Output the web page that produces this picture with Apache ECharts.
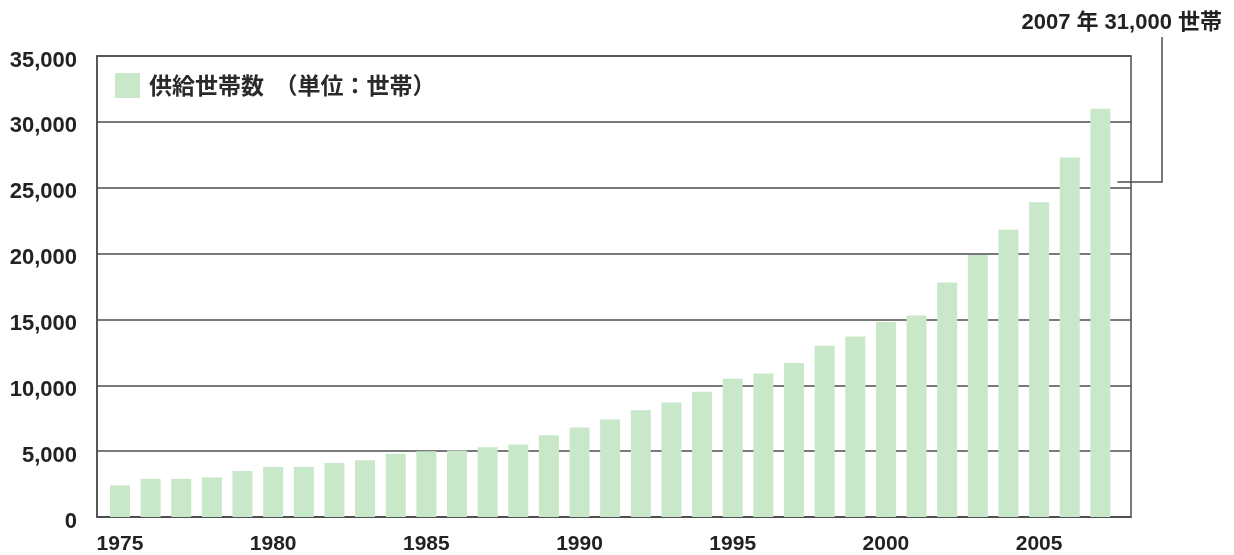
<!DOCTYPE html>
<html>
<head>
<meta charset="utf-8">
<script src="https://cdn.jsdelivr.net/npm/echarts@6/dist/echarts.min.js"></script>
<style>
  html, body { margin: 0; padding: 0; background: #fff; }
  #chart { width: 1234px; height: 555px; }
</style>
</head>
<body>
<div id="chart"></div>
<script>
// 供給世帯数の推移（1975〜2007年）
const years = [1975, 1976, 1977, 1978, 1979, 1980, 1981, 1982, 1983, 1984,
               1985, 1986, 1987, 1988, 1989, 1990, 1991, 1992, 1993, 1994,
               1995, 1996, 1997, 1998, 1999, 2000, 2001, 2002, 2003, 2004,
               2005, 2006, 2007];
const households = [2400, 2900, 2900, 3000, 3500, 3800, 3800, 4100, 4300, 4800,
                    5000, 5050, 5300, 5500, 6200, 6800, 7400, 8100, 8700, 9500,
                    10500, 10900, 11700, 13000, 13700, 14800, 15300, 17800, 19900, 21800,
                    23900, 27300, 31000];
const yTicks = [0, 5000, 10000, 15000, 20000, 25000, 30000, 35000];
const seriesName = '供給世帯数  （単位：世帯）';
const noteText = '2007 年 31,000 世帯';

const FONT = '"Liberation Sans", Arial, "Noto Sans CJK JP", sans-serif';
const BAR = '#c9e7c9';
const LINE = '#4d4d4d';

const chart = echarts.init(document.getElementById('chart'), null, { renderer: 'canvas' });

const fmtNum = v => v.toLocaleString('en-US');

chart.setOption({
  animation: false,
  backgroundColor: '#fff',
  grid: {
    left: 97, right: 103, top: 56, bottom: 37,
    show: true, borderColor: LINE, borderWidth: 1.5, backgroundColor: 'transparent'
  },
  legend: {
    left: 115, top: 73, padding: 0,
    itemWidth: 25, itemHeight: 25, itemGap: 10,
    icon: 'rect',
    textStyle: { fontFamily: '"Noto Sans CJK JP", sans-serif', fontSize: 23, fontWeight: 'bold', color: '#2a2a2a', padding: [0, 0, 0, 4] },
    data: [seriesName]
  },
  xAxis: {
    type: 'value',
    min: 1974.25, max: 2008, interval: 0.25,
    axisLine: { show: true, lineStyle: { color: LINE, width: 1.5 } },
    axisTick: { show: false },
    splitLine: { show: false },
    axisLabel: {
      margin: 17,
      fontFamily: FONT, fontSize: 21, fontWeight: 'bold', color: '#222',
      formatter: v => {
        const r = Math.round(v);
        return (Math.abs(v - r) < 1e-6 && r % 5 === 0) ? String(r) : '';
      }
    }
  },
  yAxis: {
    type: 'value',
    min: yTicks[0], max: yTicks[yTicks.length - 1], interval: yTicks[1] - yTicks[0],
    axisLine: { show: true, lineStyle: { color: LINE, width: 1.5 } },
    axisTick: { show: false },
    splitLine: { show: true, lineStyle: { color: LINE, width: 1.5 } },
    axisLabel: {
      margin: 20,
      formatter: v => '{n|' + fmtNum(v) + '}',
      rich: {
        n: {
          fontFamily: FONT, fontSize: 22, fontWeight: 'bold', color: '#222',
          padding: [9, 0, 0, 0]
        }
      }
    }
  },
  series: [{
    name: seriesName,
    type: 'bar',
    barWidth: 20,
    itemStyle: { color: BAR },
    data: years.map((y, i) => [y, households[i]])
  }]
});

// 2007年の注記と引き出し線
const lastX = chart.convertToPixel({ xAxisIndex: 0 }, years[years.length - 1]);
const elbowY = 182;
const noteX = 1162;
chart.setOption({
  graphic: [
    {
      type: 'text',
      style: {
        x: 1222, y: 23, text: noteText,
        textAlign: 'right', textVerticalAlign: 'middle',
        font: 'bold 22px ' + FONT, fill: '#222'
      }
    },
    {
      type: 'polyline',
      shape: { points: [[noteX, 37], [noteX, elbowY], [lastX + 17, elbowY]] },
      style: { stroke: LINE, lineWidth: 1.5, fill: null }
    }
  ]
});
</script>
</body>
</html>
